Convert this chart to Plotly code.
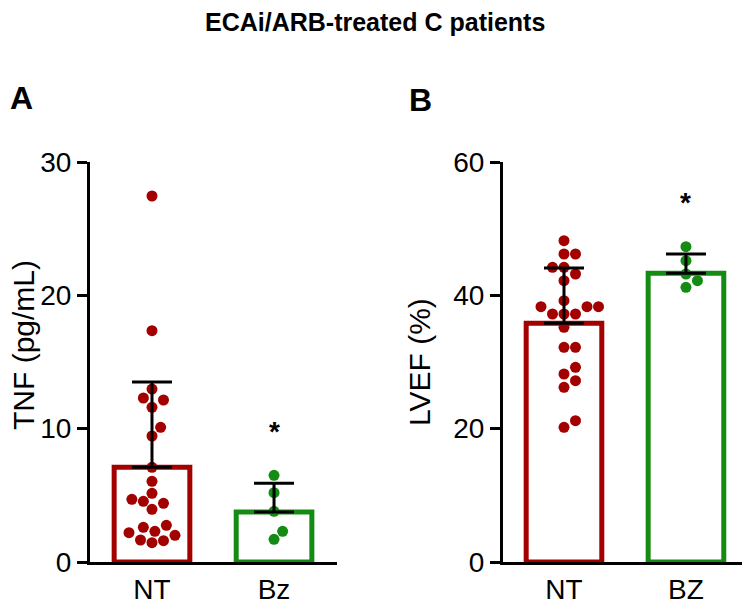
import plotly.graph_objects as go

# ---- data ----
groups_a = ['NT', 'Bz']
groups_b = ['NT', 'BZ']

tnf_nt = [27.45, 17.35, 12.97, 12.3, 12.15, 11.6, 10.1, 9.45, 7.1, 6.05, 4.7, 5.15,
          4.4, 4.55, 3.95, 2.2, 2.0, 1.65, 2.3, 2.75, 2.6, 1.6, 1.45]
tnf_bz = [6.5, 5.2, 3.8, 2.3, 1.7]
tnf_mean = [7.1, 3.75]
tnf_sd = [6.4, 2.15]

lvef_nt = [48.2, 46.2, 46.2, 44.2, 44.2, 43.2, 42.2, 39.2, 38.3, 38.3, 38.3, 37.2,
           37.2, 37.2, 35.2, 32.2, 32.2, 29.2, 28.2, 27.2, 26.2, 21.2, 20.2]
lvef_bz = [47.3, 45.2, 43.2, 42.2, 41.2]
lvef_mean = [35.8, 43.3]
lvef_sd = [8.3, 2.9]

RED = '#A30000'
GREEN = '#148C14'
FONT = 'Liberation Sans, Arial, sans-serif'
W, H = 750, 609
OFF = 8  # page body margin


def fx(px):
    return (px - OFF) / W


def fy(py):
    return 1 - (py - OFF) / H


dom_ax = [fx(90), fx(337)]
dom_bx = [fx(503), fx(750)]
dom_y = [fy(562), fy(162)]
rng_ax = [-0.508, 1.516]
rng_bx = [-0.5, 1.525]


def swarm(values, px_x, px_y, d=11.5):
    # simple beeswarm: place each point as close to the centre as it can go
    placed = []
    offs = [0.0] * len(values)
    order = sorted(range(len(values)), key=lambda i: values[i])
    step = d / 4
    for i in order:
        yp = values[i] * px_y
        k = 0
        found = None
        while found is None:
            cands = [0.0] if k == 0 else [k * step, -k * step]
            for c in cands:
                if all((c - p) ** 2 + (yp - q) ** 2 >= d * d for p, q in placed):
                    found = c
                    break
            k += 1
        placed.append((found, yp))
        offs[i] = found / px_x
    return offs


def panel(fig, xa, ya, dom_x, rng_x, ymax, nt, bz, mean, sd):
    px_x = (dom_x[1] - dom_x[0]) * W / (rng_x[1] - rng_x[0])
    px_y = (dom_y[1] - dom_y[0]) * H / ymax
    fig.add_trace(go.Bar(
        x=[0, 1], y=mean, width=0.62, xaxis=xa, yaxis=ya,
        marker=dict(color='white', line=dict(color=[RED, GREEN], width=5)),
        showlegend=False))
    for k, (vals, col) in enumerate([(nt, RED), (bz, GREEN)]):
        offs = swarm(vals, px_x, px_y)
        fig.add_trace(go.Scatter(
            x=[k + o for o in offs], y=vals, mode='markers', xaxis=xa, yaxis=ya,
            marker=dict(size=11, color=col), cliponaxis=False, showlegend=False))
    fig.add_trace(go.Scatter(
        x=[0, 1], y=mean, mode='markers', xaxis=xa, yaxis=ya,
        marker=dict(size=1, color='rgba(0,0,0,0)'),
        error_y=dict(type='data', symmetric=False, array=sd, arrayminus=[0, 0],
                     color='black', thickness=3, width=20),
        cliponaxis=False, showlegend=False))
    fig.add_annotation(x=1, y=mean[1] + sd[1], xref=xa, yref=ya, text='<b>*</b>',
                       showarrow=False, xanchor='center', yanchor='bottom', yshift=34,
                       font=dict(family=FONT, size=28, color='black'))


fig = go.Figure()
panel(fig, 'x', 'y', dom_ax, rng_ax, 30, tnf_nt, tnf_bz, tnf_mean, tnf_sd)
panel(fig, 'x2', 'y2', dom_bx, rng_bx, 60, lvef_nt, lvef_bz, lvef_mean, lvef_sd)

xcommon = dict(showline=True, linewidth=3, linecolor='black', ticks='', showgrid=False,
               zeroline=False, tickmode='array', tickvals=[0, 1], automargin=False,
               tickfont=dict(family=FONT, size=28, color='black'))
ycommon = dict(showline=True, linewidth=3, linecolor='black', ticks='outside', ticklen=10,
               tickwidth=3, tickcolor='black', showgrid=False, zeroline=False,
               automargin=False, tickfont=dict(family=FONT, size=28, color='black'),
               domain=dom_y)

fig.update_layout(
    width=W, height=H, autosize=False,
    margin=dict(l=0, r=0, t=0, b=0, pad=0, autoexpand=False),
    paper_bgcolor='white', plot_bgcolor='white',
    barmode='overlay',
    xaxis=dict(xcommon, domain=dom_ax, range=rng_ax, ticktext=groups_a, anchor='y'),
    yaxis=dict(ycommon, range=[0, 30], dtick=10, anchor='x'),
    xaxis2=dict(xcommon, domain=dom_bx, range=rng_bx, ticktext=groups_b, anchor='y2'),
    yaxis2=dict(ycommon, range=[0, 60], dtick=20, anchor='x2'),
)


def label(text, x, y, size, angle=0, family=FONT):
    fig.add_annotation(x=fx(x), y=fy(y), xref='paper', yref='paper', showarrow=False,
                       xanchor='center', yanchor='middle', text=text, textangle=angle,
                       borderpad=0, font=dict(family=family, size=size, color='black'))


label('<b>ECAi/ARB-treated C patients</b>', 375, 22, 25,
      family='Liberation Sans Narrow, Liberation Sans, Arial')
label('<b>A</b>', 21, 98, 32)
label('<b>B</b>', 420, 100, 32)
label('TNF (pg/mL)', 23, 345, 30, angle=-90)
label('LVEF (%)', 419, 362, 30, angle=-90)

fig.write_html("out.html")
